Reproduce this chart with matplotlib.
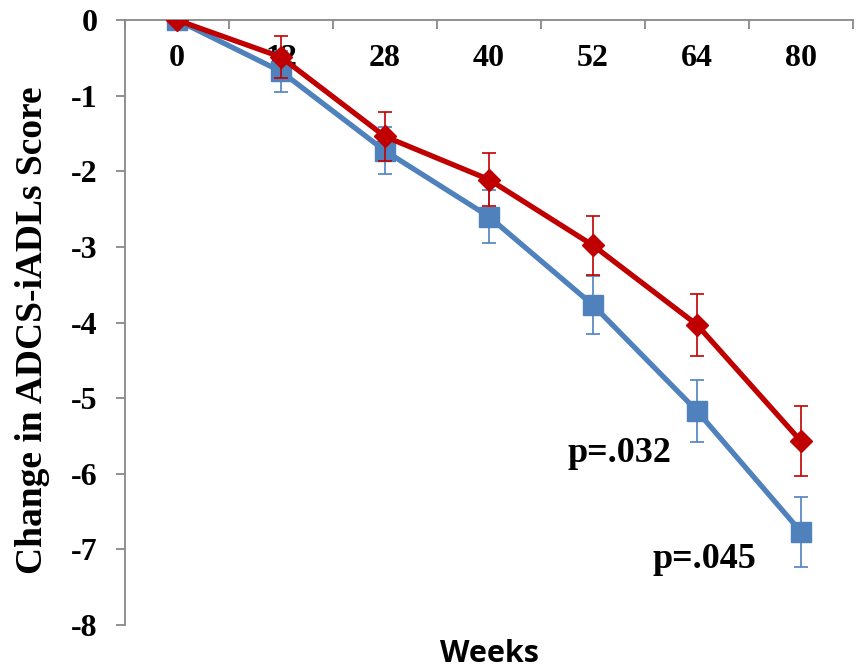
import matplotlib
matplotlib.use("Agg")
import matplotlib.pyplot as plt

# 資料
weeks = ["0", "12", "28", "40", "52", "64", "80"]
blue_mean = [0, -0.68, -1.73, -2.60, -3.77, -5.17, -6.77]
blue_err = [0, 0.27, 0.31, 0.35, 0.38, 0.41, 0.46]
red_mean = [0, -0.49, -1.54, -2.11, -2.98, -4.03, -5.57]
red_err = [0, 0.28, 0.32, 0.35, 0.39, 0.41, 0.46]
p_labels = ["p=.032", "p=.045"]

BLUE = "#4F81BD"
RED = "#C00000"
GREY = "#888888"
SERIF = "Liberation Serif"

fig = plt.figure(figsize=(8.6, 6.7), dpi=100)
ax = fig.add_axes([0.1453, 0.0672, 0.8466, 0.9029])

x = list(range(len(weeks)))

ax.errorbar(x, blue_mean, yerr=blue_err, color=BLUE, lw=3.8, marker="s",
            markersize=14, ecolor=BLUE, elinewidth=1.2, capsize=5, capthick=1.2, zorder=3)
ax.errorbar(x, red_mean, yerr=red_err, color=RED, lw=3.8, marker="D",
            markersize=11.5, ecolor=RED, elinewidth=1.2, capsize=5, capthick=1.2, zorder=4)

# p 值標示
ax.text(3.75, -5.73, p_labels[0], ha="left", va="center", fontsize=26,
        fontweight="bold", family=SERIF)
ax.text(4.57, -7.14, p_labels[1], ha="left", va="center", fontsize=26,
        fontweight="bold", family=SERIF)

ax.set_xlim(-0.5, len(weeks) - 0.5)
ax.set_ylim(-8, 0)

# 座標軸：x 軸在 y=0
ax.spines["bottom"].set_position(("data", 0))
ax.spines["top"].set_visible(False)
ax.spines["right"].set_visible(False)
for s in ("bottom", "left"):
    ax.spines[s].set_color(GREY)
    ax.spines[s].set_linewidth(1.3)

ax.set_xticks([i - 0.5 for i in range(len(weeks) + 1)])
ax.set_xticklabels([])
ax.set_xticks(x, minor=True)
ax.set_xticklabels(weeks, minor=True, fontsize=23, fontweight="bold", family=SERIF)
ax.tick_params(axis="x", which="major", direction="out", length=6.5, width=1.3, color=GREY)
ax.tick_params(axis="x", which="minor", length=0, pad=17)

ax.set_yticks(range(-8, 1))
ax.set_yticklabels([str(v) for v in range(-8, 1)], fontsize=23, fontweight="bold", family=SERIF)
ax.tick_params(axis="y", direction="out", length=6.5, width=1.3, color=GREY, pad=13)

ax.set_ylabel("Change in ADCS-iADLs Score", fontsize=27, fontweight="bold", family=SERIF)
ax.yaxis.set_label_coords(-0.103, 0.487)
fig.text(0.569, 0.024, "Weeks", ha="center", va="center", fontsize=22,
         fontweight="bold", family="Open Sans")

fig.savefig("out.png", dpi=100)
